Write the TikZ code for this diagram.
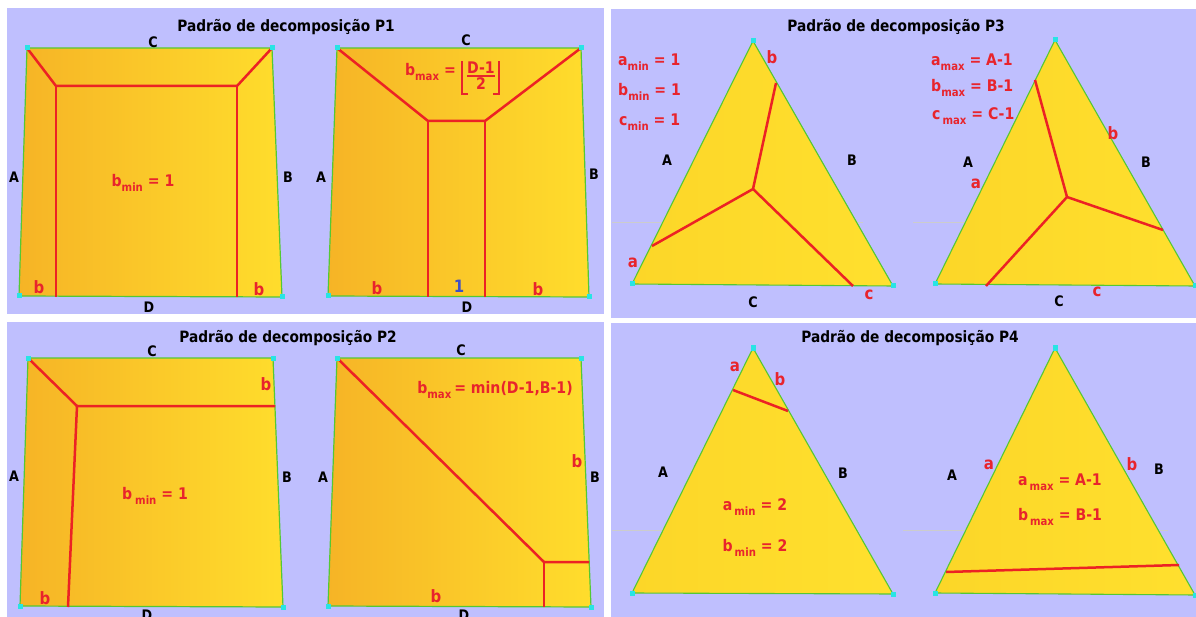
\documentclass[tikz,border=0pt]{standalone}
\usepackage{fontspec}
\setmainfont{DejaVu Sans}[FakeStretch=0.88]
\usetikzlibrary{positioning}

\definecolor{lav}{RGB}{191,191,254}
\definecolor{sheetL}{RGB}{246,180,38}
\definecolor{sheetR}{RGB}{255,221,44}
\definecolor{triL}{RGB}{252,214,40}
\definecolor{triR}{RGB}{255,224,46}
\definecolor{edgegreen}{RGB}{84,200,52}
\definecolor{cutred}{RGB}{236,34,36}
\definecolor{labred}{RGB}{232,36,44}
\definecolor{dotcyan}{RGB}{40,228,228}
\definecolor{unitblue}{RGB}{64,80,196}

\newcommand{\lowidx}[1]{\raisebox{-0.55ex}{\fontsize{11.5}{12}\selectfont #1}}

\begin{document}
\begin{tikzpicture}[x=1pt, y=-1pt,
    font=\bfseries,
    panel/.style={fill=lav},
    sheet/.style={draw=edgegreen, line width=1.2pt, left color=sheetL, right color=sheetR},
    tri/.style={draw=edgegreen, line width=1.1pt, left color=triL, right color=triR},
    cut/.style={draw=cutred, line width=2.5pt},
    cornerdot/.style={fill=dotcyan, inner sep=0pt, minimum size=5pt},
    side/.style={font=\fontsize{14.5}{16}\selectfont\bfseries, text=black},
    part/.style={font=\fontsize{17}{19}\selectfont\bfseries, text=labred},
    formula/.style={font=\fontsize{16}{19}\selectfont\bfseries, text=labred, inner sep=0pt},
    heading/.style={font=\fontsize{15.6}{18}\selectfont\bfseries},
    ghost/.style={draw=black!20, line width=0.8pt}
  ]
\fill[white] (0,0) rectangle (1196,617);
\useasboundingbox (0,0) rectangle (1196,617);

% --- four panels ---
\fill[panel] (7,8) rectangle (604,314);
\fill[panel] (7,322) rectangle (604,617);
\fill[panel] (611,9) rectangle (1196,318);
\fill[panel] (611,323) rectangle (1196,617);

\node[heading] (h1) at (286,27)  {Padrão de decomposição P1};
\node[heading] (h2) at (288,338) {Padrão de decomposição P2};
\node[heading] (h3) at (896,27)  {Padrão de decomposição P3};
\node[heading] (h4) at (910,338) {Padrão de decomposição P4};

% --- P1, minimum ---
\coordinate (q1-tl) at (27,48);  \coordinate (q1-tr) at (272,48);
\coordinate (q1-br) at (282,297); \coordinate (q1-bl) at (19,296);
\coordinate (q1-il) at (56,86);  \coordinate (q1-ir) at (237,86);
\coordinate (q1-fl) at (56,297); \coordinate (q1-fr) at (237,297);
\path[sheet] (q1-tl) -- (q1-tr) -- (q1-br) -- (q1-bl) -- cycle;
\draw[cut] (q1-tl) -- (q1-il) -- (q1-ir) -- (q1-tr);
\draw[cut] (q1-il) -- (q1-fl);
\draw[cut] (q1-ir) -- (q1-fr);
\node[side] (q1-C) at (153,42)  {C};
\node[side] (q1-A) at (14,177)  {A};
\node[side] (q1-B) at (288,177) {B};
\node[side] (q1-D) at (149,307) {D};
\node[part] (q1-b1) at (39,287)  {b};
\node[part] (q1-b2) at (259,289) {b};
\node[formula] (q1-f) at (143,183) {b\lowidx{min} = 1};

% --- P1, maximum ---
\coordinate (q2-tl) at (337,48);  \coordinate (q2-tr) at (581,48);
\coordinate (q2-br) at (589,297); \coordinate (q2-bl) at (328,296);
\coordinate (q2-il) at (428,121); \coordinate (q2-ir) at (485,121);
\coordinate (q2-fl) at (428,297); \coordinate (q2-fr) at (485,297);
\path[sheet] (q2-tl) -- (q2-tr) -- (q2-br) -- (q2-bl) -- cycle;
\draw[cut] (q2-tl) -- (q2-il) -- (q2-ir) -- (q2-tr);
\draw[cut] (q2-il) -- (q2-fl);
\draw[cut] (q2-ir) -- (q2-fr);
\node[side] (q2-C) at (466,40)  {C};
\node[side] (q2-A) at (321,177) {A};
\node[side] (q2-B) at (594,174) {B};
\node[side] (q2-D) at (467,307) {D};
\node[part] (q2-b1) at (377,288) {b};
\node[part, text=unitblue] (q2-one) at (459,286) {1};
\node[part] (q2-b2) at (538,289) {b};
\node[formula, anchor=base east] (q2-f) at (456,76) {b\lowidx{max} =};
\node[formula, anchor=base] (q2-num) at (481,74) {D-1};
\node[formula, anchor=base] (q2-den) at (481,90) {2};
\draw[labred, line width=1.8pt] ([yshift=-1.5pt]q2-num.south west) -- ([yshift=-1.5pt]q2-num.south east);
\draw[labred, line width=2.4pt] (468,94) -- (462,94) -- (462,61);
\draw[labred, line width=2.4pt] (493,94) -- (499,94) -- (499,61);

% --- P2, minimum ---
\coordinate (q3-tl) at (28,358);  \coordinate (q3-tr) at (273,358);
\coordinate (q3-br) at (283,607); \coordinate (q3-bl) at (20,606);
\coordinate (q3-k) at (77,406);   \coordinate (q3-e) at (275,406);
\coordinate (q3-f) at (68,607);
\path[sheet] (q3-tl) -- (q3-tr) -- (q3-br) -- (q3-bl) -- cycle;
\draw[cut] (q3-tl) -- (q3-k) -- (q3-e);
\draw[cut] (q3-k) -- (q3-f);
\node[side] (q3-C) at (152,351) {C};
\node[side] (q3-A) at (14,476)  {A};
\node[side] (q3-B) at (287,477) {B};
\node[side] (q3-D) at (147,615) {D};
\node[part] (q3-b1) at (266,384) {b};
\node[part] (q3-b2) at (45,598)  {b};
\node[formula] (q3-fm) at (155,496) {b\kern3pt\lowidx{min} = 1};

% --- P2, maximum ---
\coordinate (q4-tl) at (337,358); \coordinate (q4-tr) at (581,358);
\coordinate (q4-br) at (591,607); \coordinate (q4-bl) at (328,606);
\coordinate (q4-k) at (544,562);  \coordinate (q4-e) at (589,562);
\coordinate (q4-f) at (544,607);
\path[sheet] (q4-tl) -- (q4-tr) -- (q4-br) -- (q4-bl) -- cycle;
\draw[cut] (q4-tl) -- (q4-k) -- (q4-e);
\draw[cut] (q4-k) -- (q4-f);
\node[side] (q4-C) at (461,350) {C};
\node[side] (q4-A) at (323,477) {A};
\node[side] (q4-B) at (595,477) {B};
\node[side] (q4-D) at (464,615) {D};
\node[part] (q4-b1) at (577,461) {b};
\node[part] (q4-b2) at (436,596) {b};
\node[formula] (q4-fm) at (495,390) {b\lowidx{max}\kern3pt = min(D-1,B-1)};

% --- P3, minimum ---
\draw[ghost] (612,222) -- (718,222);
\draw[ghost] (775,222) -- (792,222);
\draw[ghost] (848,222) -- (863,222);
\coordinate (t1-top) at (753,41); \coordinate (t1-l) at (632,284);
\coordinate (t1-r) at (893,286);
\coordinate (t1-m) at (753,189);  \coordinate (t1-b) at (776,83);
\coordinate (t1-a) at (652,246);  \coordinate (t1-c) at (853,286);
\path[tri] (t1-top) -- (t1-r) -- (t1-l) -- cycle;
\draw[cut] (t1-b) -- (t1-m) -- (t1-a);
\draw[cut] (t1-m) -- (t1-c);
\node[side] (t1-A) at (667,160) {A};
\node[side] (t1-B) at (852,160) {B};
\node[side] (t1-C) at (753,302) {C};
\node[part] (t1-lb) at (772,57)  {b};
\node[part] (t1-la) at (633,263) {a};
\node[part] (t1-lc) at (869,295) {c};
\node[formula, anchor=west] (t1-fa) at (618,62)  {a\lowidx{min} = 1};
\node[formula, anchor=west] (t1-fb) at (618,92)  {b\lowidx{min} = 1};
\node[formula, anchor=west] (t1-fc) at (619,122) {c\lowidx{min} = 1};

% --- P3, maximum ---
\draw[ghost] (913,222) -- (975,222);
\draw[ghost] (1034,222) -- (1052,222);
\draw[ghost] (1115,222) -- (1162,222);
\coordinate (t2-top) at (1055,40); \coordinate (t2-l) at (935,284);
\coordinate (t2-r) at (1195,286);
\coordinate (t2-m) at (1067,197);  \coordinate (t2-a) at (1035,80);
\coordinate (t2-b) at (1163,230);  \coordinate (t2-c) at (986,286);
\path[tri] (t2-top) -- (t2-r) -- (t2-l) -- cycle;
\draw[cut] (t2-a) -- (t2-m) -- (t2-b);
\draw[cut] (t2-m) -- (t2-c);
\node[side] (t2-A) at (968,162)  {A};
\node[side] (t2-B) at (1146,162) {B};
\node[side] (t2-C) at (1059,301) {C};
\node[part] (t2-lb) at (1113,133) {b};
\node[part] (t2-la) at (976,184)  {a};
\node[part] (t2-lc) at (1097,292) {c};
\node[formula, anchor=west] (t2-fa) at (931,62)  {a\lowidx{max} = A-1};
\node[formula, anchor=west] (t2-fb) at (931,88)  {b\lowidx{max} = B-1};
\node[formula, anchor=west] (t2-fc) at (932,116) {c\kern2pt\lowidx{max} = C-1};

% --- P4, minimum ---
\draw[ghost] (612,530) -- (673,530);
\draw[ghost] (837,530) -- (858,530);
\coordinate (t3-top) at (753,348); \coordinate (t3-l) at (632,593);
\coordinate (t3-r) at (893,594);
\coordinate (t3-a) at (733,390);   \coordinate (t3-b) at (788,411);
\path[tri] (t3-top) -- (t3-r) -- (t3-l) -- cycle;
\draw[cut] (t3-a) -- (t3-b);
\node[side] (t3-A) at (663,472) {A};
\node[side] (t3-B) at (843,473) {B};
\node[part] (t3-la) at (735,367) {a};
\node[part] (t3-lb) at (780,379) {b};
\node[formula] (t3-fa) at (755,507) {a\kern2pt\lowidx{min} = 2};
\node[formula] (t3-fb) at (755,548) {b\kern2pt\lowidx{min} = 2};

% --- P4, maximum ---
\draw[ghost] (903,530) -- (975,530);
\draw[ghost] (1015,530) -- (1055,530);
\draw[ghost] (1152,530) -- (1168,530);
\coordinate (t4-top) at (1055,348); \coordinate (t4-l) at (935,593);
\coordinate (t4-r) at (1195,595);
\coordinate (t4-a) at (946,572);    \coordinate (t4-b) at (1179,565);
\path[tri] (t4-top) -- (t4-r) -- (t4-l) -- cycle;
\draw[cut] (t4-a) -- (t4-b);
\node[side] (t4-A) at (952,475)  {A};
\node[side] (t4-B) at (1159,469) {B};
\node[part] (t4-la) at (989,465)  {a};
\node[part] (t4-lb) at (1132,464) {b};
\node[formula] (t4-fa) at (1060,482) {a\kern2pt\lowidx{max} = A-1};
\node[formula] (t4-fb) at (1060,517) {b\kern2pt\lowidx{max} = B-1};

% corner markers
\foreach \c in {q1-tl,q1-tr,q1-br,q1-bl,q2-tl,q2-tr,q2-br,q2-bl,
                q3-tl,q3-tr,q3-br,q3-bl,q4-tl,q4-tr,q4-br,q4-bl,
                t1-top,t1-l,t1-r,t2-top,t2-l,t2-r,
                t3-top,t3-l,t3-r,t4-top,t4-l,t4-r}
  \node[cornerdot] (dot-\c) at (\c) {};
\end{tikzpicture}
\end{document}
